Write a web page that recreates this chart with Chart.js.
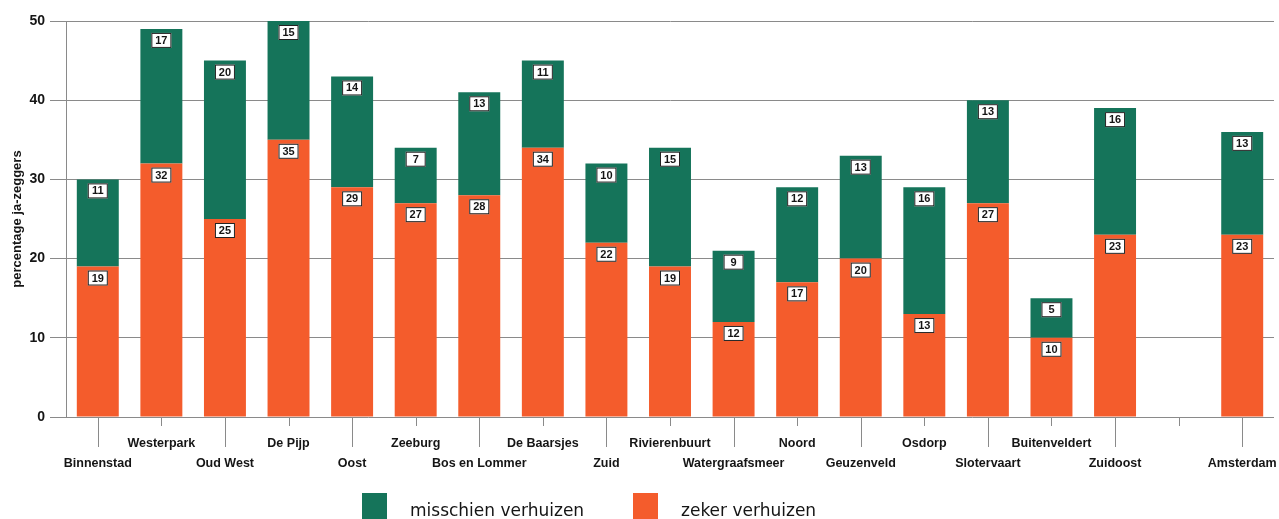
<!DOCTYPE html>
<html>
<head>
<meta charset="utf-8">
<script src="https://cdn.jsdelivr.net/npm/chart.js@4/dist/chart.umd.min.js"></script>
<style>
  html, body { margin: 0; padding: 0; background: #fff; }
  #wrap { width: 1279px; height: 519px; position: relative; }
</style>
</head>
<body>
<div id="wrap"><canvas id="verhuisChart"></canvas></div>
<script>
// stadsdelen, with an empty slot before the Amsterdam total
const districts = [
  "Binnenstad", "Westerpark", "Oud West", "De Pijp", "Oost", "Zeeburg",
  "Bos en Lommer", "De Baarsjes", "Zuid", "Rivierenbuurt", "Watergraafsmeer",
  "Noord", "Geuzenveld", "Osdorp", "Slotervaart", "Buitenveldert", "Zuidoost",
  "", "Amsterdam",
];
const zekerVerhuizen = [19, 32, 25, 35, 29, 27, 28, 34, 22, 19, 12, 17, 20, 13, 27, 10, 23, null, 23];
const misschienVerhuizen = [11, 17, 20, 15, 14, 7, 13, 11, 10, 15, 9, 12, 13, 16, 13, 5, 16, null, 13];
const yTicks = [0, 10, 20, 30, 40, 50];

const GREEN = "#15745a";
const ORANGE = "#f45c2c";
const INK = "#151515";

// even index -> lower row (long tick), odd -> upper row (short tick)
const tickLabels = districts.map((name, i) => (i % 2 === 0 ? ["", name] : [name, ""]));

// white boxed value labels at the top of each segment
const valueBoxes = {
  id: "valueBoxes",
  afterDatasetsDraw(chart) {
    const ctx = chart.ctx;
    ctx.save();
    ctx.font = "bold 11px 'Liberation Sans', Arial, sans-serif";
    ctx.textAlign = "center";
    ctx.textBaseline = "middle";
    chart.data.datasets.forEach((ds, di) => {
      chart.getDatasetMeta(di).data.forEach((bar, i) => {
        const v = ds.data[i];
        if (v == null) return;
        const w = 20, h = 15;
        const x = bar.x - w / 2;
        const y = bar.y + 4;
        ctx.fillStyle = "#fff";
        ctx.fillRect(x, y, w, h);
        ctx.strokeStyle = "#222";
        ctx.lineWidth = 1;
        ctx.strokeRect(x + 0.5, y + 0.5, w - 1, h - 1);
        ctx.fillStyle = INK;
        ctx.fillText(String(v), bar.x, y + h / 2 + 0.5);
      });
    });
    ctx.restore();
  },
};

// staggered tick marks under the x axis
const staggerTicks = {
  id: "staggerTicks",
  afterDraw(chart) {
    const ctx = chart.ctx;
    const xs = chart.scales.x;
    const base = chart.chartArea.bottom;
    ctx.save();
    ctx.strokeStyle = "#8a8a8a";
    ctx.lineWidth = 1;
    districts.forEach((_, i) => {
      const x = Math.round(xs.getPixelForTick(i)) + 0.5;
      ctx.beginPath();
      ctx.moveTo(x, base);
      ctx.lineTo(x, base + (i % 2 === 0 ? 30 : 9));
      ctx.stroke();
    });
    ctx.restore();
  },
};

// legend drawn at the bottom edge, green first
const bottomLegend = {
  id: "bottomLegend",
  afterDraw(chart) {
    const ctx = chart.ctx;
    const items = [
      { color: GREEN, text: "misschien verhuizen", x: 362 },
      { color: ORANGE, text: "zeker verhuizen", x: 633 },
    ];
    ctx.save();
    ctx.font = "17px 'DejaVu Sans', sans-serif";
    ctx.textBaseline = "alphabetic";
    items.forEach((it) => {
      ctx.fillStyle = it.color;
      ctx.fillRect(it.x, 493, 25, 30);
      ctx.fillStyle = INK;
      ctx.fillText(it.text, it.x + 48, 516);
    });
    ctx.restore();
  },
};

document.addEventListener("DOMContentLoaded", () => {
  const ctx = document.getElementById("verhuisChart").getContext("2d");

  const config = {
    type: "bar",
    data: {
      labels: tickLabels,
      datasets: [
        {
          label: "zeker verhuizen",
          data: zekerVerhuizen,
          backgroundColor: ORANGE,
          categoryPercentage: 0.66,
          barPercentage: 1,
        },
        {
          label: "misschien verhuizen",
          data: misschienVerhuizen,
          backgroundColor: GREEN,
          categoryPercentage: 0.66,
          barPercentage: 1,
        },
      ],
    },
    options: {
      responsive: true,
      maintainAspectRatio: false,
      animation: false,
      layout: { padding: { left: 0, right: 5, top: 21, bottom: 0 } },
      plugins: {
        legend: { display: false },
        tooltip: { enabled: false },
      },
      scales: {
        x: {
          stacked: true,
          grid: { display: false },
          border: { display: false },
          ticks: {
            autoSkip: false,
            maxRotation: 0,
            minRotation: 0,
            padding: 9,
            color: INK,
            font: { family: "'Liberation Sans', Arial, sans-serif", size: 12.5, weight: "bold", lineHeight: 1.6 },
          },
          afterFit(scale) {
            scale.height = 102;
            scale.paddingLeft = 0;
            scale.paddingRight = 0;
          },
        },
        y: {
          stacked: true,
          min: 0,
          max: 50,
          afterBuildTicks(scale) {
            scale.ticks = yTicks.map((v) => ({ value: v }));
          },
          grid: { color: "#8a8a8a", lineWidth: 1, tickLength: 16 },
          border: { display: true, color: "#8a8a8a" },
          ticks: {
            padding: 5,
            color: INK,
            font: { family: "'Liberation Sans', Arial, sans-serif", size: 14, weight: "bold" },
          },
          title: {
            display: true,
            text: "percentage ja-zeggers",
            color: INK,
            padding: { top: 10, bottom: 0 },
            font: { family: "'Liberation Sans', Arial, sans-serif", size: 13, weight: "bold" },
          },
          afterFit(scale) {
            scale.width = 66;
            scale.paddingTop = 0;
            scale.paddingBottom = 0;
          },
        },
      },
    },
    plugins: [valueBoxes, staggerTicks, bottomLegend],
  };

  new Chart(ctx, config);
});
</script>
</body>
</html>
